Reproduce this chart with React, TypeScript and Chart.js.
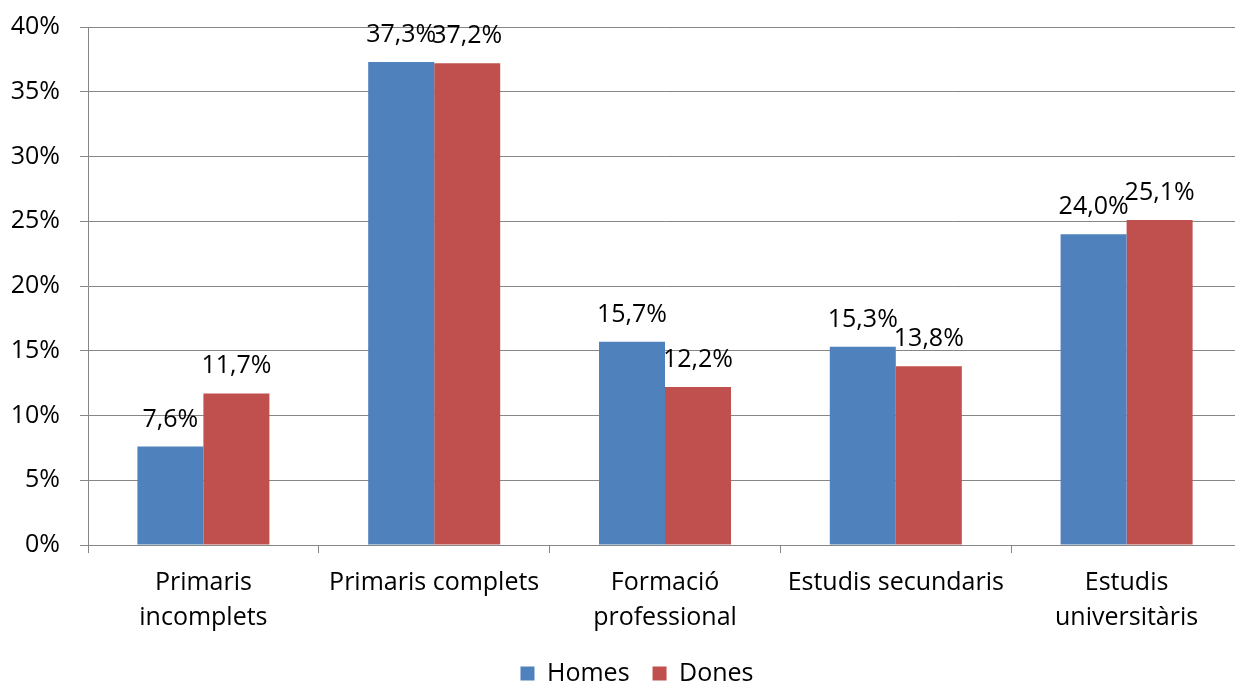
import React, { useEffect, useRef } from "react";
import { Chart, registerables } from "chart.js";

Chart.register(...registerables);

const categories: (string | string[])[] = [
  ["Primaris", "incomplets"],
  "Primaris complets",
  ["Formació", "professional"],
  "Estudis secundaris",
  ["Estudis", "universitàris"],
];
const homes = [7.6, 37.3, 15.7, 15.3, 24.0];
const dones = [11.7, 37.2, 12.2, 13.8, 25.1];
const seriesNames = ["Homes", "Dones"];
const yTicks = [0, 5, 10, 15, 20, 25, 30, 35, 40];

const FONT = "'Open Sans', sans-serif";
const FS = 25;
const GRID = "#868686";

const fmt = (v: number) => v.toFixed(1).replace(".", ",") + "%";

const labelPlugin = {
  id: "barLabels",
  afterLayout(chart: any) {
    if (chart.legend) {
      chart.legend.left += 16;
      chart.legend.right += 16;
    }
  },
  afterDatasetsDraw(chart: any) {
    const ctx = chart.ctx;
    ctx.save();
    ctx.font = `${FS}px ${FONT}`;
    ctx.fillStyle = "#000";
    ctx.textAlign = "center";
    ctx.textBaseline = "alphabetic";
    chart.data.datasets.forEach((ds: any, i: number) => {
      const meta = chart.getDatasetMeta(i);
      meta.data.forEach((el: any, j: number) => {
        ctx.fillText(fmt(ds.data[j]), el.x, el.y - 20);
      });
    });
    ctx.restore();
  },
};

export default function App() {
  const ref = useRef<HTMLCanvasElement>(null);
  useEffect(() => {
    if (!ref.current) return;
    const chart = new Chart(ref.current, {
      type: "bar",
      data: {
        labels: categories,
        datasets: [
          {
            label: seriesNames[0],
            data: homes,
            backgroundColor: "#4F81BD",
            borderWidth: 0,
          },
          {
            label: seriesNames[1],
            data: dones,
            backgroundColor: "#C0504D",
            borderWidth: 0,
          },
        ],
      },
      options: {
        animation: false,
        responsive: false,
        maintainAspectRatio: false,
        layout: { padding: { top: 27, left: 0, right: 0, bottom: -12 } },
        datasets: {
          bar: { barPercentage: 1, categoryPercentage: 0.572 },
        },
        plugins: {
          tooltip: { enabled: false },
          legend: {
            position: "bottom",
            labels: {
              font: { family: FONT, size: FS },
              color: "#000",
              boxWidth: 14,
              boxHeight: 14,
              padding: 23,
            },
          },
        },
        scales: {
          x: {
            afterFit: (s: any) => {
              s.height = 93;
              s.paddingLeft = 0;
              s.paddingRight = 0;
            },
            grid: {
              display: true,
              drawOnChartArea: false,
              drawTicks: true,
              tickLength: 8,
              color: GRID,
              offset: true,
            },
            border: { display: true, color: GRID, width: 1 },
            ticks: {
              font: { family: FONT, size: FS, lineHeight: 1.4 },
              color: "#000",
              padding: 12,
              maxRotation: 0,
              autoSkip: false,
            },
          },
          y: {
            min: 0,
            max: 40,
            afterFit: (s: any) => {
              s.width = 88;
              s.paddingTop = 0;
              s.paddingBottom = 0;
            },
            afterBuildTicks: (s: any) => {
              s.ticks = yTicks.map((v) => ({ value: v }));
            },
            grid: {
              color: GRID,
              lineWidth: 1,
              drawTicks: true,
              tickLength: 8,
            },
            border: { display: true, color: GRID, width: 1 },
            ticks: {
              font: { family: FONT, size: FS },
              color: "#000",
              padding: 20,
              callback: (v: any) => `${v}%`,
            },
          },
        },
      },
      plugins: [labelPlugin],
    });
    return () => chart.destroy();
  }, []);
  return (
    <div
      style={{
        position: "fixed",
        left: 0,
        top: 0,
        width: 1235,
        height: 684,
        overflow: "hidden",
        background: "#fff",
      }}
    >
      <canvas ref={ref} width={1242} height={684} style={{ display: "block" }} />
    </div>
  );
}
